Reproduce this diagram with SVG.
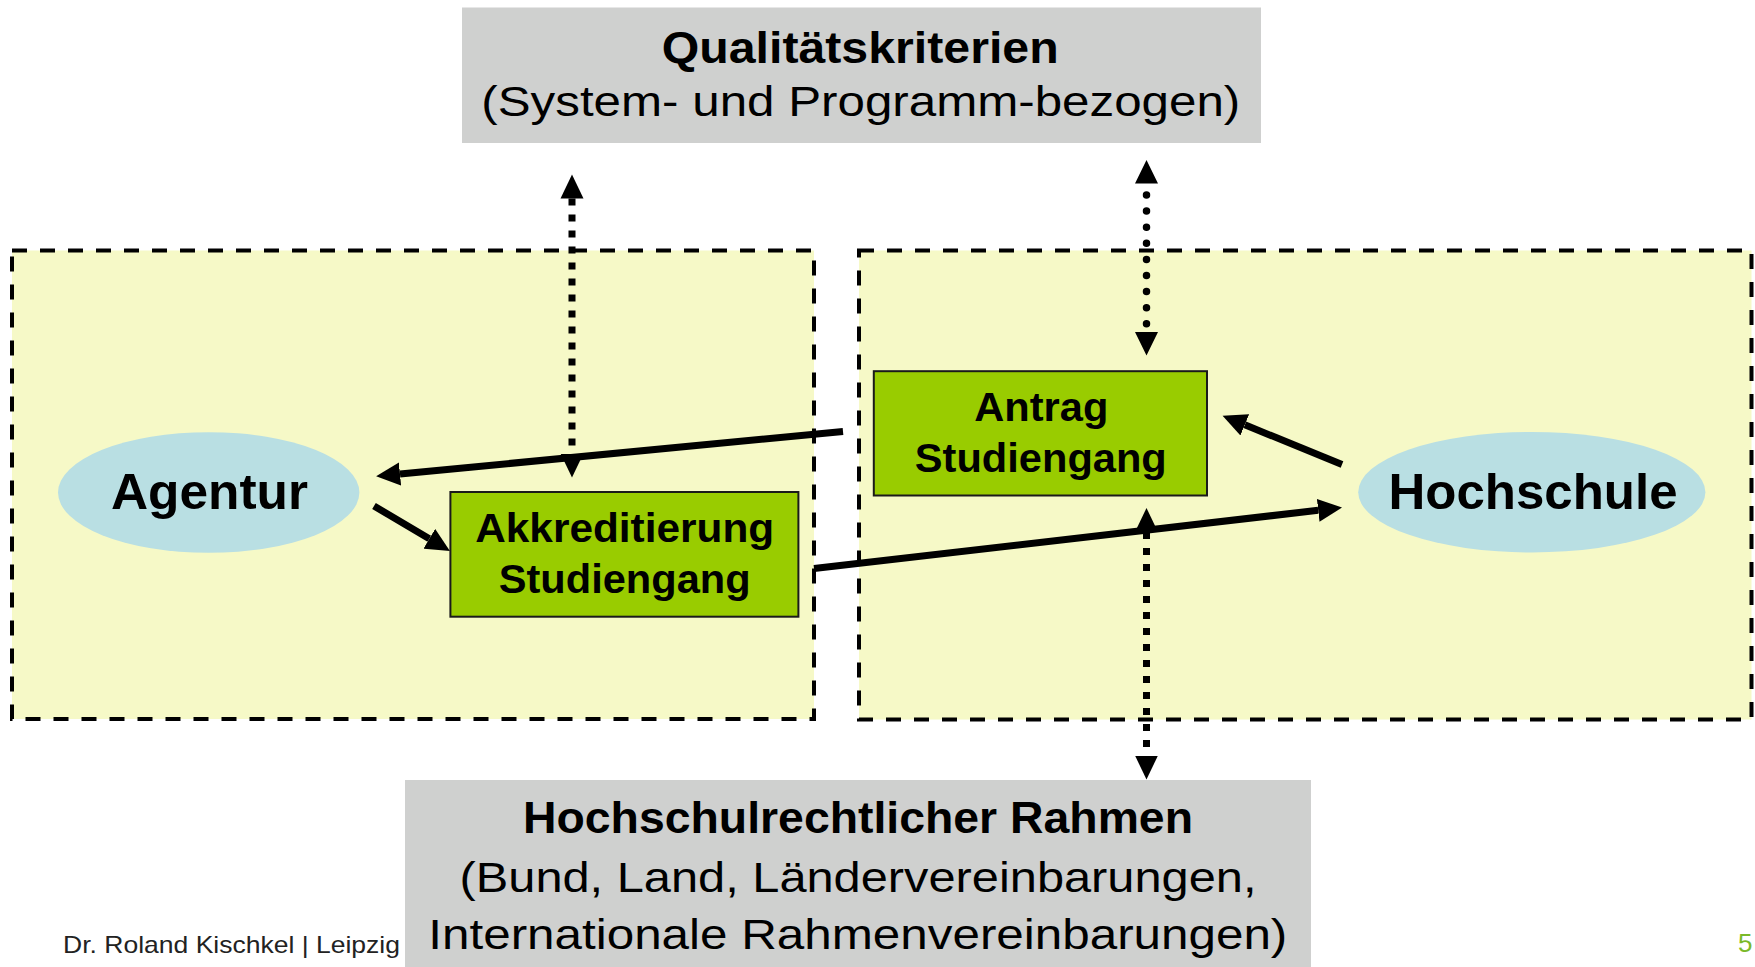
<svg xmlns="http://www.w3.org/2000/svg" width="1755" height="967" viewBox="0 0 1755 967">
<style>
.area{fill:#f6f9c7;stroke:#000;stroke-width:4;stroke-dasharray:15 13}
.ell{fill:#b9dfe3}
.grn{fill:#99cc00;stroke:#1a1a1a;stroke-width:2}
.gray{fill:#cfd0cf}
text{font-family:"Liberation Sans",Arial,sans-serif;fill:#000;text-anchor:middle}
.big{font-size:50px;font-weight:bold}
.box{font-size:40px;font-weight:bold}
.h{font-size:44px;font-weight:bold}
.r{font-size:43px}
.solid{stroke:#000;stroke-width:7;fill:none;marker-end:url(#ah)}
.sq{stroke:#000;stroke-width:7;fill:none;stroke-dasharray:7 9;marker-start:url(#ah);marker-end:url(#ah)}
.dot{stroke:#000;stroke-width:7.5;fill:none;stroke-linecap:round;stroke-dasharray:0 16.1}
</style>
<defs>
<marker id="ah" viewBox="0 -12 25 24" markerWidth="25" markerHeight="24" refX="0" refY="0" markerUnits="userSpaceOnUse" orient="auto-start-reverse">
<path d="M0,-11.5 L24,0 L0,11.5 z" fill="#000"/>
</marker>
</defs>

<g id="bereich-agentur"><rect class="area" x="12" y="250.5" width="802" height="468.5"/></g>
<g id="bereich-hochschule"><rect class="area" x="859" y="250.5" width="892.5" height="469"/></g>

<g id="qualitaetskriterien">
<rect class="gray" x="462" y="7.5" width="799" height="135.5"/>
<text class="h" x="860.2" y="63.3" textLength="397" lengthAdjust="spacingAndGlyphs">Qualitätskriterien</text>
<text class="r" x="860.8" y="116" textLength="759" lengthAdjust="spacingAndGlyphs">(System- und Programm-bezogen)</text>
</g>

<g id="rahmen">
<rect class="gray" x="405" y="780" width="906" height="187"/>
<text class="h" x="858" y="833.3" textLength="670" lengthAdjust="spacingAndGlyphs">Hochschulrechtlicher Rahmen</text>
<text class="r" x="858" y="891.7" textLength="797" lengthAdjust="spacingAndGlyphs">(Bund, Land, Ländervereinbarungen,</text>
<text class="r" x="857.8" y="949.3" textLength="859" lengthAdjust="spacingAndGlyphs">Internationale Rahmenvereinbarungen)</text>
</g>

<g id="agentur">
<ellipse class="ell" cx="208.7" cy="492.5" rx="150.7" ry="60.3"/>
<text class="big" x="209.5" y="509" textLength="197" lengthAdjust="spacingAndGlyphs">Agentur</text>
</g>

<g id="akkreditierung">
<rect class="grn" x="450.4" y="492" width="348" height="124.7"/>
<text class="box" x="624.7" y="541.7" textLength="299" lengthAdjust="spacingAndGlyphs">Akkreditierung</text>
<text class="box" x="624.7" y="592.7" textLength="252" lengthAdjust="spacingAndGlyphs">Studiengang</text>
</g>

<g id="antrag">
<rect class="grn" x="873.8" y="371.2" width="333.2" height="124.3"/>
<text class="box" x="1041.3" y="421" textLength="134" lengthAdjust="spacingAndGlyphs">Antrag</text>
<text class="box" x="1040.8" y="471.5" textLength="252" lengthAdjust="spacingAndGlyphs">Studiengang</text>
</g>

<g id="hochschule">
<ellipse class="ell" cx="1531.8" cy="492.2" rx="173.6" ry="60.3"/>
<text class="big" x="1533" y="509" textLength="289" lengthAdjust="spacingAndGlyphs">Hochschule</text>
</g>

<g id="connectors">
<line class="solid" x1="843" y1="431.5" x2="400" y2="474"/>
<line class="solid" x1="374" y1="506" x2="429.3" y2="538.8"/>
<line class="solid" x1="814" y1="568.5" x2="1318.2" y2="510.3"/>
<line class="solid" x1="1342" y1="464.5" x2="1244.8" y2="424.8"/>
<line class="sq" x1="572" y1="198.5" x2="572" y2="453.5"/>
<line class="sq" x1="1146.5" y1="532" x2="1146.5" y2="755.5"/>
<line class="dot" x1="1146.5" y1="195" x2="1146.5" y2="325"/>
<path d="M1146.5,160 L1158,183.5 L1135,183.5 z M1146.5,355.5 L1158,332 L1135,332 z" fill="#000"/>
</g>

<g id="footer">
<text x="63" y="953" style="font-size:24px;text-anchor:start;fill:#222" textLength="337" lengthAdjust="spacingAndGlyphs">Dr. Roland Kischkel | Leipzig</text>
<text x="1738" y="952" style="font-size:26px;text-anchor:start;fill:#7ab929">5</text>
</g>
</svg>
